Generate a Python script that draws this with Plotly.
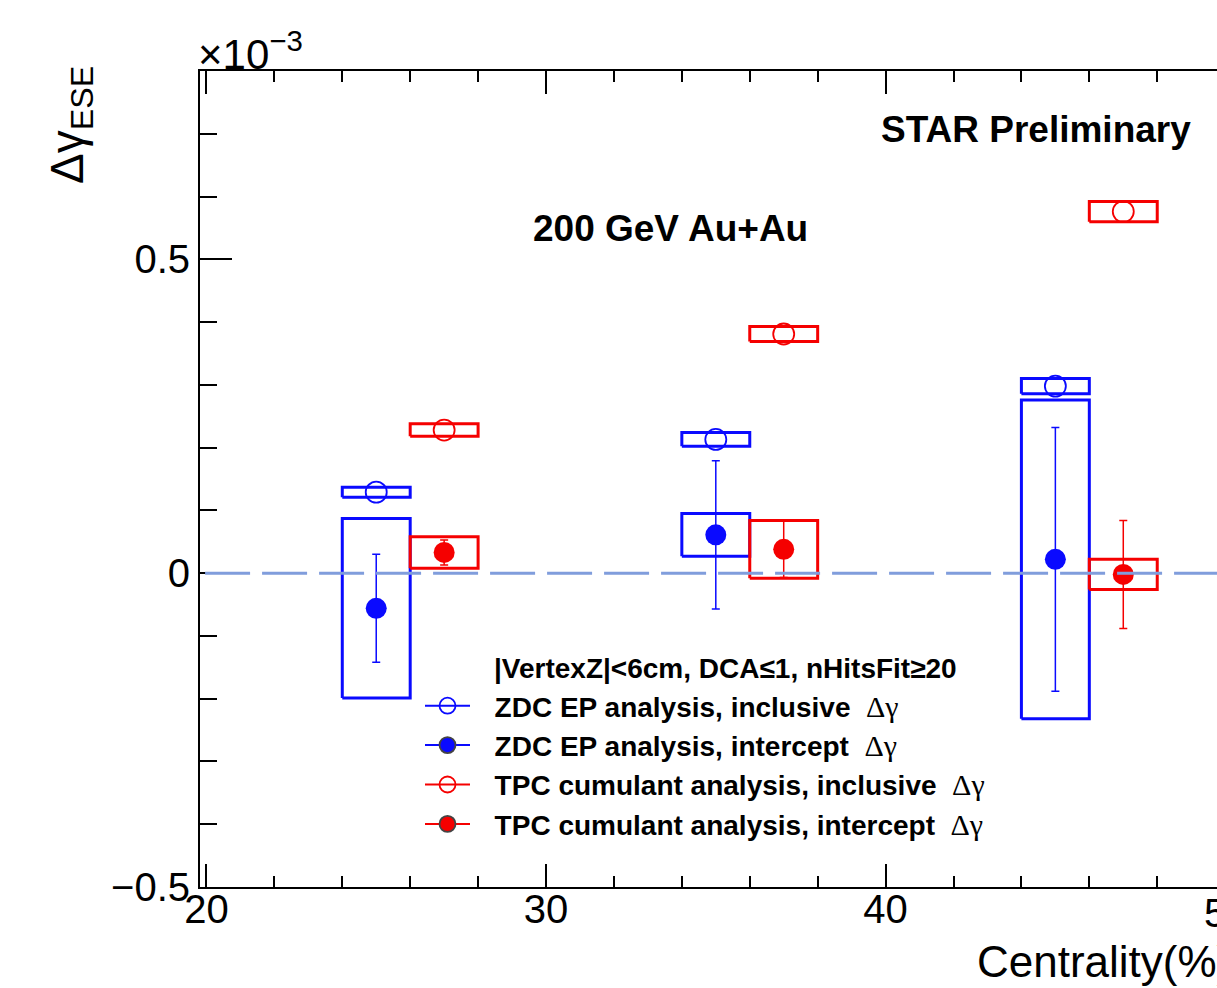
import plotly.graph_objects as go

# ---------------- data (values in units of 1e-3) ----------------
zdc_x = [25, 35, 45]
zdc_incl = [0.129, 0.213, 0.298]
zdc_incl_sys = [0.008, 0.011, 0.012]
zdc_int = [-0.056, 0.061, 0.022]
zdc_int_stat = [0.086, 0.118, 0.210]
zdc_int_sys = [0.143, 0.034, 0.254]

tpc_x = [27, 37, 47]
tpc_incl = [0.228, 0.381, 0.576]
tpc_incl_sys = [0.010, 0.012, 0.016]
tpc_int = [0.033, 0.038, -0.002]
tpc_int_stat = [0.020, 0.045, 0.086]
tpc_int_sys = [0.025, 0.046, 0.024]

baseline = 0.0
x_ticks = [20, 30, 40]
y_ticks = [-0.5, 0, 0.5]

legend_names = [
    "ZDC EP analysis, inclusive",
    "ZDC EP analysis, intercept",
    "TPC cumulant analysis, inclusive",
    "TPC cumulant analysis, intercept",
]
header_text = "|VertexZ|<6cm, DCA≤1, nHitsFit≥20"

# ---------------- style ----------------
BLUE = "#0a0aff"
RED = "#f50000"
DASH = "#809ddc"
BOX_HW = 1.0
FONT = "Liberation Sans, Arial, sans-serif"

W, H = 1217, 988
ML, MR, MT, MB = 200, 0, 71, 101
PW, PH = W - ML - MR, H - MT - MB


def px(xp):
    return (xp - ML) / PW


def py(yp):
    return (H - MB - yp) / PH


def box_path(xs, ys, sys):
    bx, by = [], []
    for x, y, s in zip(xs, ys, sys):
        bx += [x - BOX_HW, x + BOX_HW, x + BOX_HW, x - BOX_HW, x - BOX_HW, None]
        by += [y - s, y - s, y + s, y + s, y - s, None]
    return bx, by


fig = go.Figure()

for xs, ys, sys, col in [
    (zdc_x, zdc_int, zdc_int_sys, BLUE),
    (zdc_x, zdc_incl, zdc_incl_sys, BLUE),
    (tpc_x, tpc_int, tpc_int_sys, RED),
    (tpc_x, tpc_incl, tpc_incl_sys, RED),
]:
    bx, by = box_path(xs, ys, sys)
    fig.add_trace(go.Scatter(x=bx, y=by, mode="lines", line=dict(color=col, width=3),
                             showlegend=False, hoverinfo="skip", cliponaxis=False))

# points
fig.add_trace(go.Scatter(x=zdc_x, y=zdc_incl, mode="markers", showlegend=False,
                         marker=dict(symbol="circle-open", size=21, color=BLUE, line=dict(width=1.8))))
fig.add_trace(go.Scatter(x=zdc_x, y=zdc_int, mode="markers", showlegend=False,
                         error_y=dict(type="data", array=zdc_int_stat, color=BLUE, thickness=1.5, width=4),
                         marker=dict(symbol="circle", size=21, color=BLUE)))
fig.add_trace(go.Scatter(x=tpc_x, y=tpc_incl, mode="markers", showlegend=False,
                         marker=dict(symbol="circle-open", size=21, color=RED, line=dict(width=1.8))))
fig.add_trace(go.Scatter(x=tpc_x, y=tpc_int, mode="markers", showlegend=False,
                         error_y=dict(type="data", array=tpc_int_stat, color=RED, thickness=1.5, width=4),
                         marker=dict(symbol="circle", size=21, color=RED)))

# legend entries
dg = "  <span style='font-family:Liberation Serif;font-weight:normal;font-size:30px'>Δγ</span>"
lead = "\u2002\u2009"
for name, col, sym in zip(legend_names, [BLUE, BLUE, RED, RED],
                          ["circle-open", "circle", "circle-open", "circle"]):
    fig.add_trace(go.Scatter(x=[None], y=[None], mode="lines+markers", name=lead + name + dg,
                             line=dict(color=col, width=2),
                             marker=dict(symbol=sym, size=20, color=col, line=dict(width=1.8))))

# zero line
fig.add_shape(type="line", xref="x domain", x0=0.005, x1=1, yref="y", y0=baseline, y1=baseline,
              line=dict(color=DASH, width=3, dash="45px,12px"), layer="above")

annotations = [
    dict(text="<b>STAR Preliminary</b>", x=px(1036), y=py(130), font=dict(size=37)),
    dict(text="<b>200 GeV Au+Au</b>", x=px(670), y=py(229), font=dict(size=37)),
    dict(text="<b>" + header_text + "</b>", x=px(492), y=py(668), xanchor="left", font=dict(size=28)),
    dict(text="×10<sup>−3</sup>", x=px(196), y=py(80), xanchor="left", yanchor="bottom", font=dict(size=42)),
    dict(text="Δγ<sub>ESE</sub>", x=px(71), y=py(125), textangle=-90, font=dict(size=46)),
    dict(text="Centrality(%)", x=px(975), y=py(962), xanchor="left", font=dict(size=44)),
    dict(text="50", x=px(1226), y=py(913), font=dict(size=40)),
]
for a in annotations:
    a.setdefault("xanchor", "center")
    a.setdefault("yanchor", "middle")
    a["xref"] = "paper"
    a["yref"] = "paper"
    a["showarrow"] = False
    a["font"] = dict(family=FONT, color="black", **a["font"])
    fig.add_annotation(**a)

axis_common = dict(showgrid=False, zeroline=False, showline=True, linecolor="black", linewidth=2,
                   ticks="inside", tickcolor="black", tickwidth=2,
                   tickfont=dict(family=FONT, size=40, color="black"), automargin=False)

fig.update_xaxes(range=[19.81, 49.76], tickmode="array", tickvals=x_ticks, ticklen=23, mirror="ticks",
                 minor=dict(ticks="inside", dtick=2, tick0=20, ticklen=11, tickcolor="black", tickwidth=2),
                 ticklabelstandoff=-14, **axis_common)
fig.update_yaxes(range=[-0.5, 0.8], tickmode="array", tickvals=y_ticks, ticklen=32, mirror=False,
                 minor=dict(ticks="inside", dtick=0.1, tick0=0, ticklen=17, tickcolor="black", tickwidth=2),
                 **axis_common)

fig.update_layout(
    width=W, height=H,
    margin=dict(l=ML, r=MR, t=MT, b=MB, pad=0),
    paper_bgcolor="white", plot_bgcolor="white",
    showlegend=True,
    legend=dict(x=px(420), y=py(681), xanchor="left", yanchor="top",
                font=dict(family=FONT, size=28, color="black", weight="bold"),
                bgcolor="rgba(0,0,0,0)", borderwidth=0, itemwidth=45, tracegroupgap=0,
                itemclick=False),
)

fig.write_html("out.html")
